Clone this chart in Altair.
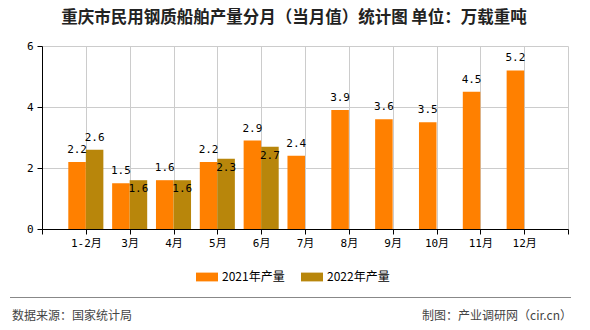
import json
import altair as alt
import pandas as pd

# ---- data ----
months = ["1-2月", "3月", "4月", "5月", "6月", "7月", "8月", "9月", "10月", "11月", "12月"]
prod_2021 = [2.2, 1.5, 1.6, 2.2, 2.9, 2.4, 3.9, 3.6, 3.5, 4.5, 5.2]
prod_2022 = [2.6, 1.6, 1.6, 2.3, 2.7, None, None, None, None, None, None]
series_names = ["2021年产量", "2022年产量"]
series_colors = ["#FF8000", "#B8860B"]
y_ticks = [0, 2, 4, 6]
title_text = "重庆市民用钢质船舶产量分月（当月值）统计图 单位：万载重吨"
source_text = "数据来源：国家统计局"
maker_text = "制图：产业调研网（cir.cn）"

rows = []
for i, m in enumerate(months):
    a, b = prod_2021[i], prod_2022[i]
    for sidx, (v, o) in enumerate([(a, b), (b, a)]):
        if v is None:
            continue
        rows.append(dict(month=m, idx=i + 1, sidx=sidx, series=series_names[sidx],
                         value=v, other=o))
df = pd.DataFrame(rows)

x_tick_values = list(range(len(months) + 2))

CJK = "Noto Sans CJK SC"
MONO = "DejaVu Sans Mono, Noto Sans CJK SC"
label_array = json.dumps([""] + months + [""], ensure_ascii=False)
GRID = "#cccccc"

x_scale = alt.Scale(domain=[0, len(months) + 1], nice=False, zero=False)
y_scale = alt.Scale(domain=[0, 6], nice=False)

x_axis = alt.Axis(values=x_tick_values, labelExpr=f"{label_array}[datum.value]",
                  labelOverlap=False, labelFlush=False, grid=True, gridColor=GRID,
                  gridOpacity=1, gridWidth=1,
                  domainColor="#000000", tickColor="#000000", tickSize=5, labelFont=MONO,
                  labelFontSize=11, labelColor="#000000", labelPadding=3, title=None, offset=0)
y_axis = alt.Axis(values=y_ticks, grid=True, gridColor=GRID, gridOpacity=1, gridWidth=1,
                  domainColor="#000000",
                  tickColor="#000000", tickSize=5, labelFont=MONO, labelFontSize=11,
                  labelColor="#000000", labelPadding=4, title=None, offset=0)

base = alt.Chart(df).transform_calculate(
    x0="datum.idx - 0.4 + 0.4 * datum.sidx",
    x1="datum.idx + 0.4 * datum.sidx",
    xc="datum.idx - 0.2 + 0.4 * datum.sidx",
)

bars = base.mark_bar().encode(
    x=alt.X("x0:Q", scale=x_scale, axis=x_axis),
    x2="x1:Q",
    y=alt.Y("value:Q", scale=y_scale, axis=y_axis),
    y2=alt.datum(0),
    color=alt.Color("series:N", scale=alt.Scale(domain=series_names, range=series_colors),
                    legend=alt.Legend(orient="none", legendX=154, legendY=220, direction="horizontal",
                                      title=None, symbolType="M-1,-0.4H1V0.4H-1Z", symbolSize=484,
                                      symbolStrokeWidth=0, symbolOpacity=1, labelFont=CJK,
                                      labelFontSize=12, labelColor="#000000", columnPadding=16,
                                      labelOffset=4, padding=0)),
)

txt_enc = dict(
    x=alt.X("xc:Q", scale=x_scale, axis=x_axis),
    y=alt.Y("value:Q", scale=y_scale, axis=y_axis),
    text=alt.Text("value:Q", format=".1f"),
)

labels_above = base.transform_filter(
    "datum.sidx == 0 || datum.other == null || abs(datum.value - datum.other) >= 0.3"
).mark_text(font=MONO, fontSize=11, color="#000000", baseline="middle", dy=-12).encode(**txt_enc)

labels_inside = base.transform_filter(
    "datum.sidx == 1 && datum.other != null && abs(datum.value - datum.other) < 0.3"
).mark_text(font=MONO, fontSize=11, color="#000000", baseline="middle", dy=9).encode(**txt_enc)

title = alt.Chart(pd.DataFrame({"t": [title_text]})).mark_text(
    font=CJK, fontSize=16.5, fontWeight="bold", color="#222222", align="center", baseline="middle"
).encode(text="t:N", x=alt.value(252), y=alt.value(-28.5))

footer_line = alt.Chart(pd.DataFrame({"a": [0]})).mark_rule(color="#888888", strokeWidth=1.2).encode(
    x=alt.value(-32), x2=alt.value(529), y=alt.value(251.5)
)

source = alt.Chart(pd.DataFrame({"t": [source_text]})).mark_text(
    font=CJK, fontSize=12, color="#444444", align="left", baseline="middle"
).encode(text="t:N", x=alt.value(-30), y=alt.value(270))

maker = alt.Chart(pd.DataFrame({"t": [maker_text]})).mark_text(
    font=CJK, fontSize=12, color="#444444", align="right", baseline="middle"
).encode(text="t:N", x=alt.value(530), y=alt.value(270))

chart = alt.layer(bars, labels_above, labels_inside, title, footer_line, source,
                  maker).properties(
    width=526, height=183,
    autosize=alt.AutoSizeParams(type="none"),
    padding={"left": 42, "top": 46, "right": 22, "bottom": 101},
).configure_view(stroke=None)

chart.save("out.html", embed_options={"renderer": "svg", "actions": False})
